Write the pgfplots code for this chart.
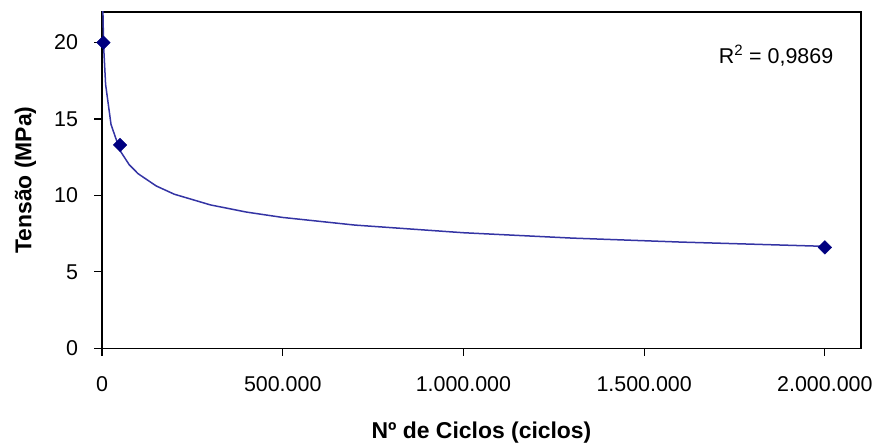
\documentclass[border=0pt]{standalone}
\usepackage{fontspec}
\setmainfont{Liberation Sans}
\usepackage{pgfplots}
\pgfplotsset{compat=1.18}
\definecolor{trend}{HTML}{3434A4}
\definecolor{navy}{HTML}{000080}
\begin{document}
\begin{tikzpicture}
\begin{axis}[name=ax, scale only axis, width=759bp, height=336.3bp,
  xmin=0, xmax=2100000, ymin=0, ymax=22,
  xtick={0,500000,1000000,1500000,2000000},
  xticklabels={0,500.000,1.000.000,1.500.000,2.000.000},
  ytick={0,5,10,15,20},
  scaled x ticks=false,
  tick align=outside, major tick length=7.5bp, tick pos=left,
  axis line style={line width=1.3bp, black},
  tick style={black, line width=1.2bp},
  /pgf/number format/assume math mode=true,
  ticklabel style={font=\fontsize{21.5}{24}\selectfont},
  xticklabel style={yshift=-17bp},
  yticklabel style={xshift=-13bp},
  xlabel={Nº de Ciclos (ciclos)},
  ylabel={Tensão (MPa)},
  label style={font=\bfseries\fontsize{23}{26}\selectfont},
  xlabel style={at={(axis description cs:0.5,0)}, anchor=base, yshift=-90bp},
  ylabel style={at={(axis description cs:-0.101,0.5)}, anchor=center},
  clip mode=individual]
\addplot[trend, line width=1.5bp, no marks] coordinates {
(2000,23.03) (3000,21.41) (5000,19.54) (10000,17.26) (25000,14.64) (50000,12.93)
(75000,12.02) (100000,11.42) (150000,10.62) (200000,10.08) (300000,9.38)
(400000,8.91) (500000,8.56) (700000,8.06) (1000000,7.56) (1300000,7.21)
(1600000,6.95) (2000000,6.67)};
\addplot[only marks, mark=square*, mark size=4.8bp,
  mark options={rotate=45, fill=navy, draw=navy}] coordinates {
(4000,20.0) (50000,13.3) (2000000,6.6)};
\node[anchor=base east, font=\fontsize{21.5}{24}\selectfont] at (rel axis cs:0.968,0.848) {R\textsuperscript{2} = 0,9869};
\end{axis}
\pgfresetboundingbox
\path ([shift={(-102bp,-95.7bp)}]ax.south west) rectangle ([shift={(21bp,12bp)}]ax.north east);
\end{tikzpicture}
\end{document}
